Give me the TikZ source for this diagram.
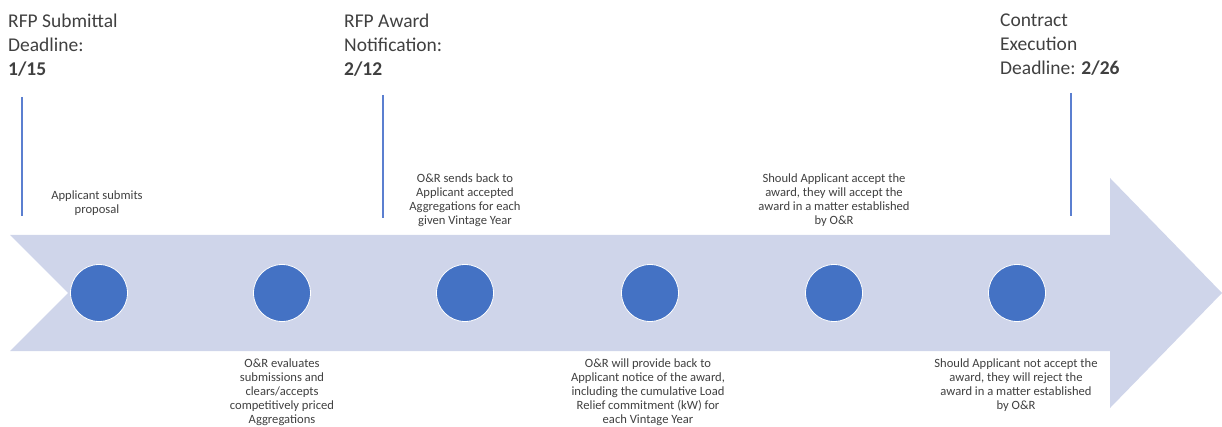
\documentclass[tikz,border=0pt]{standalone}
\usepackage{fontspec}
\setmainfont{Carlito}
\definecolor{arrowfill}{RGB}{207,213,234}
\definecolor{dotblue}{RGB}{68,114,196}
\definecolor{linkblue}{RGB}{91,127,208}
\definecolor{txt}{RGB}{64,64,64}
\begin{document}
\begin{tikzpicture}[x=1pt,y=-1pt,
  milestone/.style={circle,fill=dotblue,draw=white,line width=0.8pt,minimum size=57pt,inner sep=0pt},
  heading/.style={anchor=north west,inner sep=0pt,align=left,text=txt,font=\fontsize{19.5}{24}\selectfont},
  note/.style={anchor=north,inner sep=0pt,align=center,text=txt,font=\fontsize{12.6}{14}\selectfont},
  tick/.style={draw=linkblue,line width=2pt}]
\useasboundingbox (0,0) rectangle (1222,427);
% big arrow
\fill[arrowfill] (10,235) -- (1110,235) -- (1110,178) -- (1222,293) -- (1110,408) -- (1110,351) -- (10,351) -- (68,293) -- cycle;
% milestones
\node[milestone] (m1) at (99,293) {};
\node[milestone] (m2) at (282,293) {};
\node[milestone] (m3) at (465,293) {};
\node[milestone] (m4) at (650,293) {};
\node[milestone] (m5) at (834,293) {};
\node[milestone] (m6) at (1017,293) {};
% headings
\node[heading] (h1) at (8,14) {RFP Submittal\\Deadline:\\\textbf{1/15}};
\node[heading] (h2) at (344,14) {RFP Award\\Notification:\\\textbf{2/12}};
\node[heading] (h3) at (1000,14) {Contract\\Execution\\Deadline: \textbf{2/26}};
% deadline ticks
\coordinate (t1a) at (22,97);  \coordinate (t1b) at (22,216);
\coordinate (t2a) at (383,95); \coordinate (t2b) at (383,218);
\coordinate (t3a) at (1071,93); \coordinate (t3b) at (1071,216);
\draw[tick] (t1a) -- (t1b);
\draw[tick] (t2a) -- (t2b);
\draw[tick] (t3a) -- (t3b);
% notes above
\node[note] (n1) at (97,191) {Applicant submits\\proposal};
\node[note] (n3) at (465,174) {O\&R sends back to\\Applicant accepted\\Aggregations for each\\given Vintage Year};
\node[note] (n5) at (834,174) {Should Applicant accept the\\award, they will accept the\\award in a matter established\\by O\&R};
% notes below
\node[note] (n2) at (282,359) {O\&R evaluates\\submissions and\\clears/accepts\\competitively priced\\Aggregations};
\node[note] (n4) at (648,359) {O\&R will provide back to\\Applicant notice of the award,\\including the cumulative Load\\Relief commitment (kW) for\\each Vintage Year};
\node[note] (n6) at (1016,359) {Should Applicant not accept the\\award, they will reject the\\award in a matter established\\by O\&R};
\end{tikzpicture}
\end{document}
